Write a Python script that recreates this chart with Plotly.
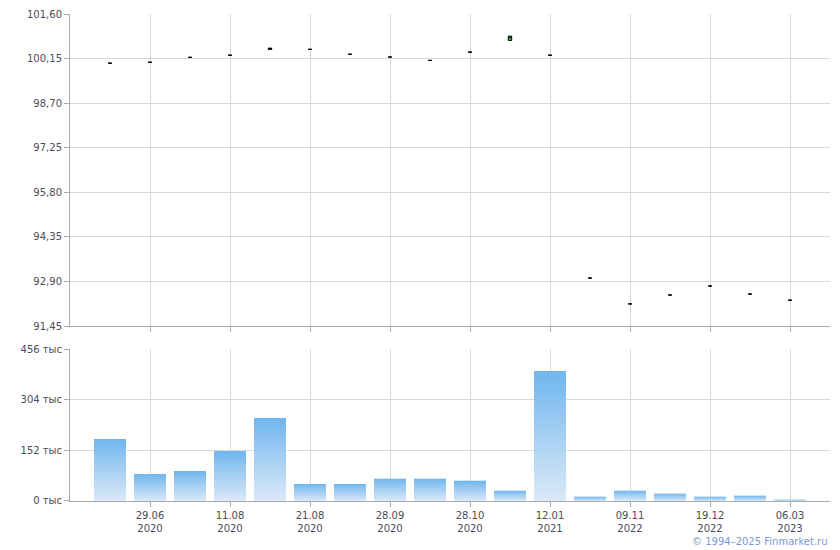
import plotly.graph_objects as go

# ---- data ----
opens  = [100.00, 100.03, 100.19, 100.26, 100.49, 100.45, 100.29, 100.20, 100.09,
          100.36, 100.74, 100.26, 93.01, 92.17, 92.46, 92.75, 92.49, 92.29]
closes = [100.00, 100.03, 100.19, 100.26, 100.45, 100.45, 100.29, 100.20, 100.09,
          100.36, 100.88, 100.26, 93.01, 92.17, 92.46, 92.75, 92.49, 92.29]
volumes_k = [186, 81, 90, 150, 249, 51, 51, 67, 67, 61, 31, 390, 13, 31, 22, 13, 16, 4]
tick_labels = ["29.06<br>2020", "11.08<br>2020", "21.08<br>2020", "28.09<br>2020",
               "28.10<br>2020", "12.01<br>2021", "09.11<br>2022", "19.12<br>2022",
               "06.03<br>2023"]
price_ticks = [91.45, 92.90, 94.35, 95.80, 97.25, 98.70, 100.15, 101.60]
vol_ticks = [0, 152, 304, 456]

n = len(opens)
xs = list(range(n))
tick_pos = list(range(1, n, 2))
highs = [max(o, c) for o, c in zip(opens, closes)]
lows = [min(o, c) for o, c in zip(opens, closes)]

GRID = "#d5d9de"
AXIS = "#a7abb3"
TXT = "#4b4b5c"
FONT = "DejaVu Sans"

fig = go.Figure()

fig.add_trace(go.Candlestick(
    x=xs, open=opens, high=highs, low=lows, close=closes,
    xaxis="x", yaxis="y",
    increasing=dict(line=dict(color="#000000", width=1), fillcolor="#1fc21f"),
    decreasing=dict(line=dict(color="#000000", width=1), fillcolor="#000000"),
    whiskerwidth=0, hoverinfo="skip", showlegend=False,
))

half = 0.4
for x, v in zip(xs, volumes_k):
    fig.add_trace(go.Scatter(
        x=[x - half, x + half, x + half, x - half, x - half],
        y=[0, 0, v, v, 0],
        mode="lines", line=dict(width=0), fill="toself",
        fillgradient=dict(type="vertical",
                          colorscale=[[0, "#dbe9f8"], [1, "#70b6ee"]]),
        xaxis="x2", yaxis="y2", hoverinfo="skip", showlegend=False,
    ))

common_x = dict(range=[-1, 18], tickvals=tick_pos, showgrid=True, gridcolor=GRID,
                gridwidth=1, showline=True, linecolor=AXIS, linewidth=1,
                ticks="outside", ticklen=5, tickcolor=AXIS, zeroline=False,
                fixedrange=True, automargin=False)

fig.update_layout(
    width=840, height=550,
    margin=dict(l=70, r=10, t=14, b=49, autoexpand=False),
    paper_bgcolor="white", plot_bgcolor="white",
    font=dict(family=FONT, size=10, color=TXT),
    boxgap=0.88,
    xaxis=dict(**common_x, anchor="y", showticklabels=False,
               rangeslider=dict(visible=False)),
    xaxis2=dict(**common_x, anchor="y2", ticktext=tick_labels,
                tickfont=dict(family=FONT, size=10, color=TXT)),
    yaxis=dict(domain=[0.3593, 1], range=[91.45, 101.60], tickvals=price_ticks,
               ticktext=[f"{t:.2f}".replace(".", ",") for t in price_ticks],
               showgrid=True, gridcolor=GRID, showline=True, linecolor=AXIS,
               ticks="outside", ticklen=5, tickcolor=AXIS, zeroline=False,
               anchor="x", automargin=False),
    yaxis2=dict(domain=[0, 0.3121], range=[0, 456], tickvals=vol_ticks,
                ticktext=[f"{t} тыс" for t in vol_ticks],
                showgrid=True, gridcolor=GRID, showline=True, linecolor=AXIS,
                ticks="outside", ticklen=5, tickcolor=AXIS, zeroline=False,
                anchor="x2", automargin=False),
    annotations=[dict(text="© 1994–2025 Finmarket.ru", xref="paper", yref="paper",
                      x=1, y=-0.084, xanchor="right", yanchor="middle",
                      showarrow=False,
                      font=dict(family=FONT, size=10, color="#7b98d4"))],
)

fig.write_html("out.html",
               config={"displayModeBar": False},
               post_script="document.body.style.margin='0';"
                           "document.body.style.overflow='hidden';")
